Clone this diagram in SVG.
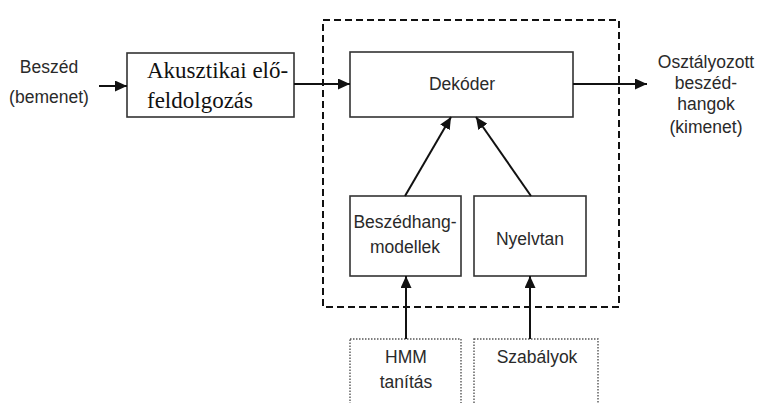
<svg xmlns="http://www.w3.org/2000/svg" width="761" height="403" viewBox="0 0 761 403">
<style>
.box{fill:#fff;stroke:#333;stroke-width:1.6}
.dot{fill:#fff;stroke:#555;stroke-width:1.4;stroke-dasharray:1.5 1.5}
.dash{fill:none;stroke:#111;stroke-width:2;stroke-dasharray:7 4}
.t{font-family:"Liberation Sans",Arial,sans-serif;font-size:17.5px;fill:#2a2a2a;text-anchor:middle}
.s{font-family:"Liberation Serif","Times New Roman",serif;font-size:23px;fill:#111}
.c{stroke:#111;stroke-width:2;fill:none;marker-end:url(#ah)}
</style>
<defs>
<marker id="ah" viewBox="0 0 12 11" refX="12" refY="5.5" markerWidth="12" markerHeight="11" markerUnits="userSpaceOnUse" orient="auto">
<path d="M0,0 L12,5.5 L0,11 z" fill="#111"/>
</marker>
</defs>
<rect width="761" height="403" fill="#fff"/>
<g id="frame"><rect class="dash" x="323" y="20" width="296" height="287"/></g>
<g id="input"><text class="t" x="49" y="73">Beszéd</text><text class="t" x="49" y="103">(bemenet)</text></g>
<g id="akusztikai"><rect class="box" x="127" y="53" width="167" height="64"/><text class="s" x="147" y="78">Akusztikai elő-</text><text class="s" x="147" y="108">feldolgozás</text></g>
<g id="dekoder"><rect class="box" x="350" y="52" width="223" height="65"/><text class="t" x="462" y="90">Dekóder</text></g>
<g id="modellek"><rect class="box" x="350" y="196" width="111" height="80"/><text class="t" x="405" y="228">Beszédhang-</text><text class="t" x="405" y="253">modellek</text></g>
<g id="nyelvtan"><rect class="box" x="474" y="196" width="112" height="80"/><text class="t" x="530" y="245">Nyelvtan</text></g>
<g id="hmm"><rect class="dot" x="350" y="339" width="111" height="70"/><text class="t" x="406" y="363">HMM</text><text class="t" x="406" y="388">tanítás</text></g>
<g id="szabalyok"><rect class="dot" x="474" y="339" width="124" height="70"/><text class="t" x="537" y="363">Szabályok</text></g>
<g id="output"><text class="t" x="706" y="68">Osztályozott</text><text class="t" x="706" y="89">beszéd-</text><text class="t" x="706" y="110">hangok</text><text class="t" x="706" y="133">(kimenet)</text></g>
<g id="connectors">
<line class="c" x1="99" y1="86" x2="127" y2="86"/>
<line class="c" x1="294" y1="84" x2="350" y2="84"/>
<line class="c" x1="573" y1="84" x2="647" y2="84"/>
<line class="c" x1="405" y1="196" x2="451" y2="117"/>
<line class="c" x1="531" y1="196" x2="476" y2="117"/>
<line class="c" x1="406" y1="339" x2="406" y2="276"/>
<line class="c" x1="530" y1="339" x2="530" y2="276"/>
</g>
</svg>
